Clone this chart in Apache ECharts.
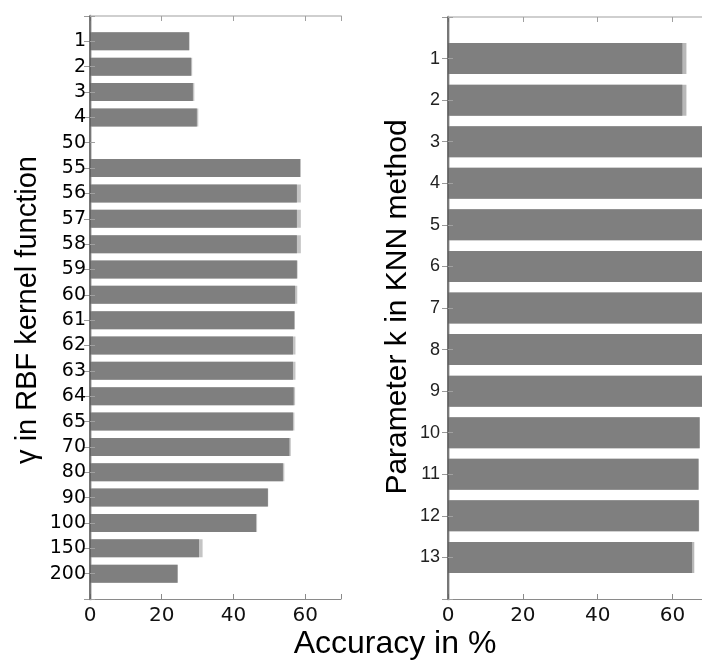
<!DOCTYPE html>
<html>
<head>
	<meta charset="utf-8">
	<title>accuracy</title>
	<script src="https://cdn.jsdelivr.net/npm/echarts@6/dist/echarts.min.js"></script>
	<style type="text/css">
		body{ margin: 0; background: #fff; }
		#main{ width: 702px; height: 663px; }
	</style>
</head>
<body>
	<div id="main"></div>
	<script type="text/javascript">
	// left panel: gamma of RBF kernel
	var gammaCats = ['1','2','3','4','50','55','56','57','58','59','60','61','62','63','64','65','70','80','90','100','150','200'];
	var gammaDark = [27.6,28.2,28.7,29.8,0,58.6,57.7,57.7,57.7,57.7,57.2,57.0,56.6,56.6,56.8,56.6,55.6,53.8,49.6,46.3,30.4,24.4];
	var gammaLight = [27.8,28.5,29.1,30.2,0,58.8,58.8,58.8,58.8,57.9,57.8,57.1,57.3,57.3,57.2,57.0,56.0,54.2,49.7,46.6,31.4,24.5];
	// right panel: k of KNN
	var kCats = ['1','2','3','4','5','6','7','8','9','10','11','12','13'];
	var kDark = [62.6,62.6,69,69,69,69,69,69,69,67.2,66.9,67.0,65.2];
	var kLight = [63.7,63.7,69,69,69,69,69,69,69,67.3,67.0,67.1,65.8];
	var xTicks = [0,20,40,60];

	// pad with empty slots at both ends so the bars sit one step from the borders
	function pad(arr){ return [''].concat(arr, ['']); }
	function padVal(arr){ return [null].concat(arr, [null]); }

	var myChart = echarts.init(document.getElementById('main'));

	function xAxes(gi){
		return [{
			type: 'value', gridIndex: gi, position: 'bottom', min: 0, max: 70, interval: 20,
			axisLine: { show: true, lineStyle: { color: '#8a8a8a', width: 1 } },
			axisTick: { show: true, inside: true, length: 5, lineStyle: { color: '#8a8a8a' } },
			splitLine: { show: false },
			axisLabel: {
				margin: 7, color: '#111', fontSize: 20, fontFamily: 'DejaVu Sans',
				formatter: function(v){ return xTicks.indexOf(v) >= 0 ? String(v) : ''; }
			}
		}, {
			type: 'value', gridIndex: gi, position: 'top', min: 0, max: 70, interval: 20,
			axisLine: { show: true, lineStyle: { color: '#cfcfcf', width: 2 } },
			axisTick: { show: true, inside: true, length: 5, lineStyle: { color: '#a0a0a0' } },
			splitLine: { show: false },
			axisLabel: { show: false }
		}];
	}

	function yAxes(gi, cats, labelStyle){
		return [{
			type: 'category', gridIndex: gi, position: 'left', inverse: true, boundaryGap: false,
			data: pad(cats),
			axisLine: { show: true, lineStyle: { color: '#5a5a5a', width: 1.5 } },
			axisTick: { show: true, inside: true, length: 5, interval: 0, lineStyle: { color: '#a0a0a0' } },
			axisLabel: Object.assign({ interval: 0 }, labelStyle),
			z: 5
		}, {
			type: 'category', gridIndex: gi, position: 'right', inverse: true, boundaryGap: false,
			data: pad(cats),
			axisLine: { show: true, lineStyle: { color: '#cfcfcf', width: 3 } },
			axisTick: { show: true, inside: true, length: 6, interval: 0, lineStyle: { color: '#9a9a9a' } },
			axisLabel: { show: false }
		}];
	}

	var option = {
		backgroundColor: '#fff',
		animation: false,
		grid: [
			{ left: 90, width: 251, top: 16, bottom: 64, outerBoundsMode: 'none' },
			{ left: 448, width: 262, top: 17, bottom: 64, outerBoundsMode: 'none' }
		],
		xAxis: xAxes(0).concat(xAxes(1)),
		yAxis: yAxes(0, gammaCats, { margin: 4, color: '#000', fontSize: 19, fontFamily: 'DejaVu Sans' })
			.concat(yAxes(1, kCats, { margin: 8, color: '#222', fontSize: 18, fontFamily: 'Liberation Sans' })),
		series: [
			{ type: 'bar', xAxisIndex: 0, yAxisIndex: 0, data: padVal(gammaLight), barWidth: 18, barGap: '-100%',
			  itemStyle: { color: '#c4c4c4' } },
			{ type: 'bar', xAxisIndex: 0, yAxisIndex: 0, data: padVal(gammaDark), barWidth: 18, barGap: '-100%',
			  itemStyle: { color: '#7f7f7f' } },
			{ type: 'bar', xAxisIndex: 2, yAxisIndex: 2, data: padVal(kLight), barWidth: 31, barGap: '-100%',
			  itemStyle: { color: '#b8b8b8' } },
			{ type: 'bar', xAxisIndex: 2, yAxisIndex: 2, data: padVal(kDark), barWidth: 31, barGap: '-100%',
			  itemStyle: { color: '#7f7f7f' } }
		],
		graphic: [
			{ type: 'text', x: 28, y: 310, rotation: Math.PI / 2,
			  style: { text: 'γ in RBF kernel function', font: '29px "Liberation Sans"', fill: '#000',
			           textAlign: 'center', verticalAlign: 'middle' } },
			{ type: 'text', x: 398, y: 307, rotation: Math.PI / 2,
			  style: { text: 'Parameter k in KNN method', font: '30px "Liberation Sans"', fill: '#000',
			           textAlign: 'center', verticalAlign: 'middle' } },
			{ type: 'text', x: 395, y: 644,
			  style: { text: 'Accuracy in %', font: '32px "Liberation Sans"', fill: '#000',
			           textAlign: 'center', verticalAlign: 'middle' } }
		]
	};
	myChart.setOption(option);
	</script>
</body>
</html>
